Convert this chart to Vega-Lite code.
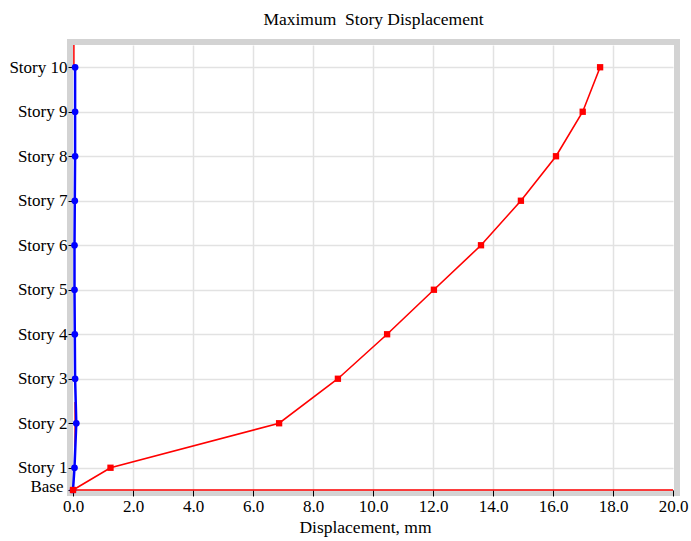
{
  "$schema": "https://vega.github.io/schema/vega-lite/v6.json",
  "width": 607,
  "height": 451,
  "autosize": {"type": "none"},
  "padding": {"left": 70, "top": 42, "right": 14, "bottom": 48},
  "background": "white",
  "title": {"text": "Maximum\u00a0 Story Displacement", "font": "Liberation Serif", "fontSize": 17.5, "fontWeight": "normal", "color": "black", "offset": 14},
  "config": {
    "view": {"stroke": "#d3d3d3", "strokeWidth": 6, "fill": "white"},
    "axis": {"labelFont": "Liberation Serif", "labelFontSize": 17, "labelColor": "black", "titleFont": "Liberation Serif", "titleFontSize": 17.5, "titleFontWeight": "normal", "titleColor": "black", "domain": false, "tickColor": "black", "gridColor": "#e2e2e2", "gridWidth": 1.5}
  },
  "datasets": {
    "disp": [
      {"story": "Base", "elev": 0, "dir": "X", "disp": 0},
      {"story": "Story 1", "elev": 0.5, "dir": "X", "disp": 1.25},
      {"story": "Story 2", "elev": 1.5, "dir": "X", "disp": 6.87},
      {"story": "Story 3", "elev": 2.5, "dir": "X", "disp": 8.83},
      {"story": "Story 4", "elev": 3.5, "dir": "X", "disp": 10.47},
      {"story": "Story 5", "elev": 4.5, "dir": "X", "disp": 12.03},
      {"story": "Story 6", "elev": 5.5, "dir": "X", "disp": 13.6},
      {"story": "Story 7", "elev": 6.5, "dir": "X", "disp": 14.93},
      {"story": "Story 8", "elev": 7.5, "dir": "X", "disp": 16.1},
      {"story": "Story 9", "elev": 8.5, "dir": "X", "disp": 16.99},
      {"story": "Story 10", "elev": 9.5, "dir": "X", "disp": 17.57},
      {"story": "Base", "elev": 0, "dir": "Y", "disp": 0},
      {"story": "Story 1", "elev": 0.5, "dir": "Y", "disp": 0.05},
      {"story": "Story 2", "elev": 1.5, "dir": "Y", "disp": 0.11},
      {"story": "Story 3", "elev": 2.5, "dir": "Y", "disp": 0.07},
      {"story": "Story 4", "elev": 3.5, "dir": "Y", "disp": 0.06},
      {"story": "Story 5", "elev": 4.5, "dir": "Y", "disp": 0.05},
      {"story": "Story 6", "elev": 5.5, "dir": "Y", "disp": 0.05},
      {"story": "Story 7", "elev": 6.5, "dir": "Y", "disp": 0.06},
      {"story": "Story 8", "elev": 7.5, "dir": "Y", "disp": 0.07},
      {"story": "Story 9", "elev": 8.5, "dir": "Y", "disp": 0.07},
      {"story": "Story 10", "elev": 9.5, "dir": "Y", "disp": 0.07}
    ],
    "segs": [
      {"x": 0.03, "x2": 0.03, "y": 9.5, "y2": 10},
      {"x": 0.07, "x2": 0.07, "y": 0.97, "y2": 1.98},
      {"x": 0, "x2": 20, "y": 0, "y2": 0}
    ]
  },
  "layer": [
    {
      "data": {"name": "segs"},
      "mark": {"type": "rule", "color": "#ff0000", "strokeWidth": 1.5},
      "encoding": {
        "x": {"field": "x", "type": "quantitative",
          "scale": {"domain": [0, 20], "range": [3, 603], "nice": false, "zero": false},
          "axis": {"values": [0, 2, 4, 6, 8, 10, 12, 14, 16, 18, 20], "format": ".1f", "title": "Displacement, mm", "titleX": 295, "offset": -3, "tickSize": 6, "labelPadding": 2, "titlePadding": 4, "labelFlush": false, "labelOverlap": false,
            "gridOpacity": {"condition": {"test": "datum.value == 0 || datum.value == 20", "value": 0}, "value": 1}}},
        "x2": {"field": "x2"},
        "y": {"field": "y", "type": "quantitative",
          "scale": {"domain": [0, 10], "range": [448, 3], "nice": false, "zero": false},
          "axis": {"values": [0, 0.5, 1.5, 2.5, 3.5, 4.5, 5.5, 6.5, 7.5, 8.5, 9.5], "labelExpr": "datum.value == 0 ? 'Base' : 'Story ' + (datum.value + 0.5)", "title": null, "offset": -3, "tickSize": 5, "labelFlush": false, "labelOverlap": false,
            "labelPadding": {"condition": {"test": "datum.value == 0", "value": 5}, "value": 1},
            "labelOffset": {"condition": {"test": "datum.value == 0", "value": -4}, "value": 0}}},
        "y2": {"field": "y2"}
      }
    },
    {
      "data": {"name": "disp"},
      "transform": [{"filter": "datum.dir == 'Y'"}],
      "mark": {"type": "line", "color": "#0000ff", "strokeWidth": 2.5, "point": {"filled": true, "color": "#0000ff", "size": 45}},
      "encoding": {
        "x": {"field": "disp", "type": "quantitative"},
        "y": {"field": "elev", "type": "quantitative"},
        "order": {"field": "elev"}
      }
    },
    {
      "data": {"name": "disp"},
      "transform": [{"filter": "datum.dir == 'X'"}],
      "mark": {"type": "line", "color": "#ff0000", "strokeWidth": 1.6, "point": {"filled": true, "shape": "square", "color": "#ff0000", "size": 40}},
      "encoding": {
        "x": {"field": "disp", "type": "quantitative"},
        "y": {"field": "elev", "type": "quantitative"},
        "order": {"field": "elev"}
      }
    }
  ]
}
